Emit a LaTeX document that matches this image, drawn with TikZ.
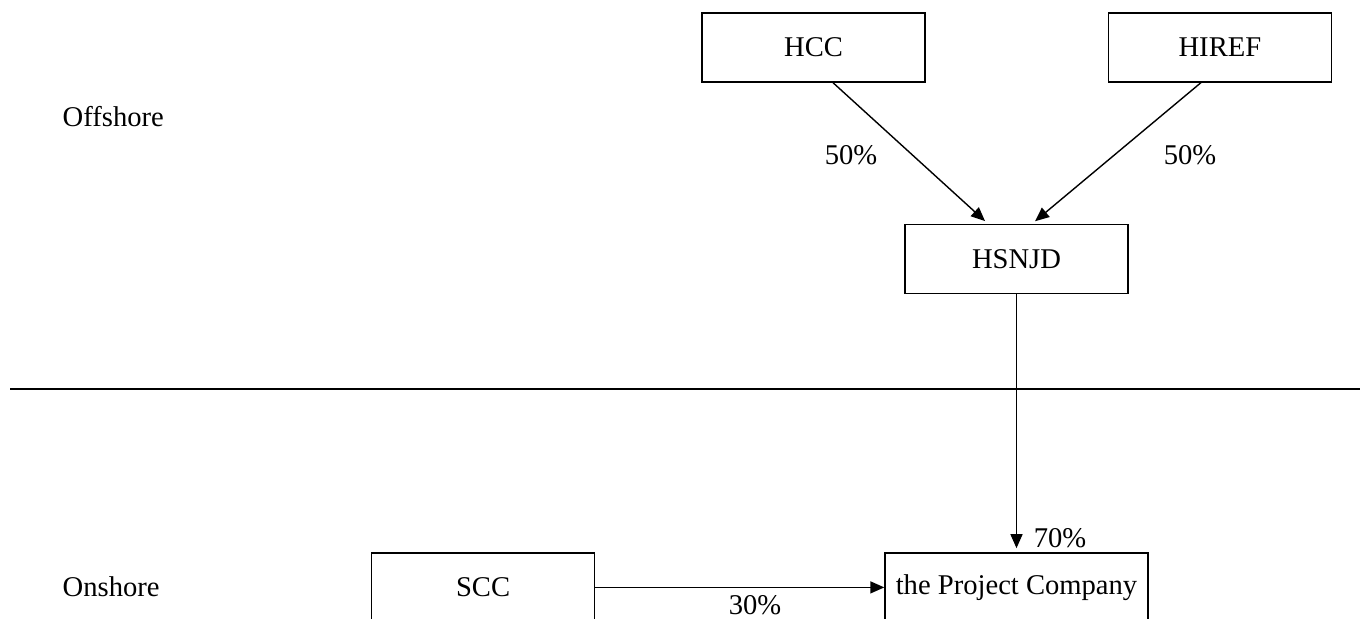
\documentclass[tikz,border=0pt]{standalone}
\usepackage{fontspec}
\setmainfont{Liberation Serif}
\usepackage{tikz}
\usetikzlibrary{arrows.meta, positioning}

\begin{document}
\begin{tikzpicture}[>={Triangle[length=7pt,width=6pt]}, line width=0.7pt,
    font=\fontsize{14.3pt}{17pt}\selectfont,
    entity/.style={draw, rectangle, minimum width=111.5pt, minimum height=34.5pt, inner sep=0pt}]
    \useasboundingbox (0,0) rectangle (680pt,-309.5pt);

    \node[entity] (hcc) at (406.75pt,-23.75pt) {HCC};
    \node[entity, right=91pt of hcc] (hiref) {HIREF};
    \node[entity] (hsnjd) at (508.25pt,-129.5pt) {HSNJD};
    \node[entity, minimum width=131.5pt, below=129pt of hsnjd] (proj) {the Project Company};
    \node[entity, left=144.5pt of proj] (scc) {SCC};

    \node[anchor=west, inner sep=0pt] (off) at (31pt,-58.5pt) {Offshore};
    \node[anchor=west, inner sep=0pt] (on) at (31pt,-293.5pt) {Onshore};

    \coordinate (divl) at (5pt,-194.5pt);
    \coordinate (divr) at (680pt,-194.5pt);
    \draw (divl) -- (divr);

    \draw[->, shorten >=2pt] ([xshift=9.75pt]hcc.south) -- ([xshift=-14.25pt]hsnjd.north);
    \draw[->, shorten >=2pt] ([xshift=-9.5pt]hiref.south) -- ([xshift=7.75pt]hsnjd.north);
    \draw[->, shorten >=2pt] (hsnjd) -- (proj);
    \draw[->] (scc) -- (proj);

    \node (p1) at (425.5pt,-77.5pt) {50\%};
    \node (p2) at (595pt,-77.5pt) {50\%};
    \node (p3) at (530pt,-269pt) {70\%};
    \node (p4) at (377.5pt,-302.5pt) {30\%};
\end{tikzpicture}
\end{document}
